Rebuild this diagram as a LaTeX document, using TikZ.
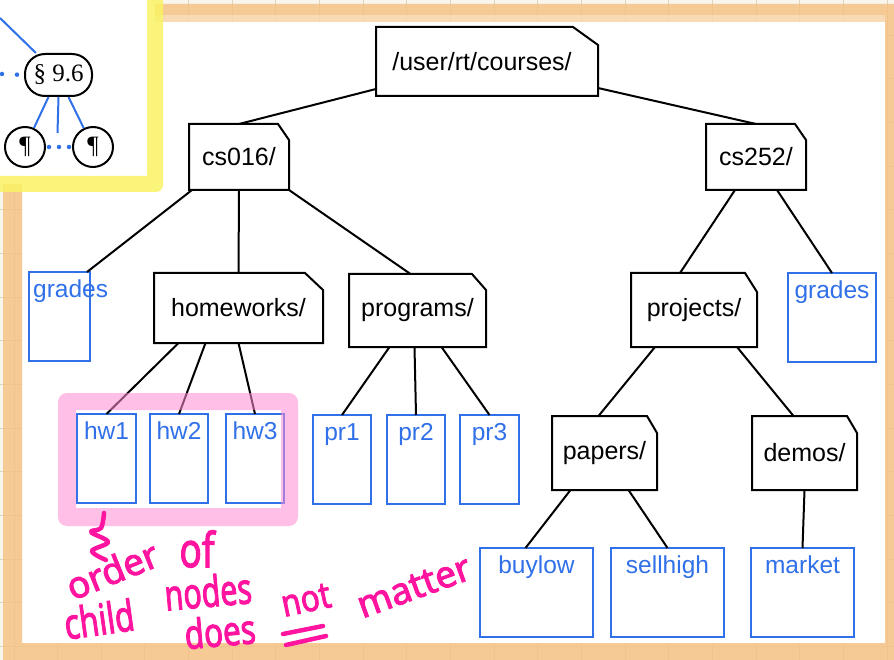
\documentclass[tikz,border=0pt]{standalone}
\usepackage{fontspec}
\setmainfont{Liberation Sans}
\newfontfamily\bookfont{Liberation Serif}
\newfontfamily\handfont[FakeBold=2.5]{Noto Sans}
\usetikzlibrary{calc}

\definecolor{paper}{RGB}{248,246,236}
\definecolor{gridline}{RGB}{224,212,188}
\definecolor{tape}{RGB}{245,192,128}
\definecolor{marker}{RGB}{250,243,100}
\definecolor{leafblue}{RGB}{48,112,232}
\definecolor{hilite}{RGB}{255,140,210}
\definecolor{ink}{RGB}{255,20,160}

\tikzset{
  folder/.style={inner sep=0pt, outer sep=0pt, anchor=north west, font=\fontsize{25}{30}\selectfont},
  folderline/.style={draw=black, line width=2pt, line join=miter},
  leaf/.style={draw=leafblue, line width=2pt, inner sep=0pt, outer sep=0pt, minimum height=89pt, anchor=north west},
  leaftag/.style={anchor=north, yshift=-8pt, inner sep=0pt, text height=17.5pt, text=leafblue, font=\fontsize{24.5}{30}\selectfont},
  link/.style={draw=black, line width=2pt},
  twig/.style={draw=leafblue, line width=2pt},
  dotlink/.style={draw=leafblue, line width=4.5pt, line cap=round, dash pattern=on 0pt off 15pt},
  bubble/.style={draw=black, line width=2pt, rounded corners=20pt, minimum width=67pt, minimum height=42pt, inner sep=0pt, font=\bookfont\fontsize{25}{30}\selectfont},
  para/.style={draw=black, line width=2pt, circle, minimum size=40pt, inner sep=0pt, font=\bookfont\fontsize{25}{30}\selectfont},
  pen/.style={draw=ink, line width=4.5pt, line cap=round, line join=round},
  hand/.style={text=ink, inner sep=0pt, font=\handfont\fontsize{37}{40}\selectfont},
}

\begin{document}
\begin{tikzpicture}[x=1pt, y=-1pt]
\useasboundingbox (0,0) rectangle (894,660);

% grid paper
\fill[paper] (0,0) rectangle (894,660);
\foreach \i in {0,...,20}
  \draw[gridline, line width=1pt] ({14+43.65*\i},0) -- ++(0,660);
\foreach \i in {0,...,15}
  \draw[gridline, line width=1pt] (0,{-8.4+43.67*\i}) -- ++(894,0);

% white sheet and the tape round it
\fill[white] (22,22) rectangle (885,643);
\fill[tape, opacity=0.8, even odd rule] [rounded corners=6pt] (3,4) rectangle (910,675)
  [sharp corners] (22,22) rectangle (885,643);
\fill[white, opacity=0.3] (22,15) rectangle (885,22);

% yellow-framed inset with a piece of a document tree
\fill[white] (0,0) rectangle (155,184);
\fill[marker, opacity=0.85, even odd rule] [rounded corners=7pt] (-20,-20) rectangle (163,192)
  [sharp corners] (-30,-30) rectangle (147,176);

\node[bubble] (sec) at (58.5,75) {\S\ 9.6};
\node[para] (p1) at (25,147) {¶};
\node[para] (p2) at (93,147) {¶};
\coordinate (secup) at (0,18);
\coordinate (secdots) at (2,74);
\coordinate (stub) at (57.5,133);
\draw[twig] (secup) -- (sec);
\draw[dotlink] (secdots) -- (sec.west);
\draw[twig] ([xshift=-10pt]sec.south) -- (p1);
\draw[twig] (sec.south) -- (stub);
\draw[twig] ([xshift=10pt]sec.south) -- (p2);
\draw[dotlink, dash pattern=on 0pt off 10pt] ([xshift=3pt]p1.east) -- (p2.west);

% directories
\node[folder, minimum width=222pt, minimum height=69pt] (root) at (376,27) {/user/rt/courses/\hspace*{10pt}};
\node[folder, minimum width=100pt, minimum height=66pt] (cs016) at (189,124) {cs016/};
\node[folder, minimum width=100pt, minimum height=66pt] (cs252) at (706,124) {cs252/};
\node[folder, minimum width=169pt, minimum height=70pt] (homeworks) at (154,273) {homeworks/};
\node[folder, minimum width=137pt, minimum height=73pt] (programs) at (349,274) {programs/};
\node[folder, minimum width=126pt, minimum height=74pt] (projects) at (631,273) {projects/};
\node[folder, minimum width=105pt, minimum height=74pt] (papers) at (552,416) {papers/};
\node[folder, minimum width=105pt, minimum height=74pt] (demos) at (752,416) {demos/};

\foreach \n/\fx/\fy in {root/25/18, cs016/11/16, cs252/11/16, homeworks/18/17,
                        programs/14/16, projects/12/19, papers/10/17, demos/10/17}
  \draw[folderline] (\n.south west) -- (\n.north west) -- ($(\n.north east)+(-\fx,0)$)
    -- ($(\n.north east)+(0,\fy)$) -- (\n.south east) -- cycle;

% files
\node[leaf, minimum width=61pt, label={[leaftag, anchor=north west, xshift=4pt]north west:grades}] (gradesL) at (29,272) {};
\node[leaf, minimum width=88pt, label={[leaftag]north:grades}] (gradesR) at (788,273) {};
\node[leaf, minimum width=59pt, label={[leaftag]north:hw1}] (hw1) at (77,414) {};
\node[leaf, minimum width=58pt, label={[leaftag]north:hw2}] (hw2) at (150,414) {};
\node[leaf, minimum width=58pt, label={[leaftag]north:hw3}] (hw3) at (226,414) {};
\node[leaf, minimum width=58pt, label={[leaftag]north:pr1}] (pr1) at (313,415) {};
\node[leaf, minimum width=58pt, label={[leaftag]north:pr2}] (pr2) at (387,415) {};
\node[leaf, minimum width=59pt, label={[leaftag]north:pr3}] (pr3) at (460,415) {};
\node[leaf, minimum width=113pt, label={[leaftag]north:buylow}] (buylow) at (480,548) {};
\node[leaf, minimum width=113pt, label={[leaftag]north:sellhigh}] (sellhigh) at (611,548) {};
\node[leaf, minimum width=103pt, label={[leaftag]north:market}] (market) at (751,548) {};

% edges
\draw[link] ($(root.south west)+(0,-7)$) -- (cs016.north);
\draw[link] ($(root.south east)+(0,-8)$) -- (cs252.north);
\draw[link] ($(cs016.south west)+(3,0)$) -- ($(gradesL.north east)+(-3,0)$);
\draw[link] (cs016.south) -- (homeworks.north);
\draw[link] (cs016.south east) -- ($(programs.north)+(-7,0)$);
\draw[link] ($(cs252.south)+(-21,0)$) -- ($(projects.north)+(-14,0)$);
\draw[link] ($(cs252.south)+(21,0)$) -- (gradesR.north);
\draw[link] ($(homeworks.south)+(-60,0)$) -- (hw1.north);
\draw[link] ($(homeworks.south)+(-33,0)$) -- (hw2.north);
\draw[link] (homeworks.south) -- (hw3.north);
\draw[link] ($(programs.south)+(-28,0)$) -- (pr1.north);
\draw[link] ($(programs.south)+(-3,0)$) -- (pr2.north);
\draw[link] ($(programs.south)+(24,0)$) -- (pr3.north);
\draw[link] ($(projects.south)+(-39,0)$) -- ($(papers.north)+(-6,0)$);
\draw[link] ($(projects.south)+(43,0)$) -- ($(demos.north)+(-11,0)$);
\draw[link] ($(papers.south)+(-34,0)$) -- ($(buylow.north)+(-11,0)$);
\draw[link] ($(papers.south)+(24,0)$) -- (sellhigh.north);
\draw[link] (demos.south) -- (market.north);

% pink highlight round the homework files
\fill[hilite, opacity=0.55, even odd rule] [rounded corners=9pt] (58,393) rectangle (298,526)
  [sharp corners] (76,410) rectangle (281,508);

% handwritten note
\draw[pen] plot[smooth, tension=0.6] coordinates {(104,513) (101,528) (91,532) (108,542) (92,551) (106,560)};
\node[hand, rotate=22, xscale=1.0] (nOrder) at (112,570) {order};
\node[hand, yscale=1.3] (nOf) at (197,549) {of};
\node[hand, rotate=8, xscale=0.85, yscale=1.15] (nChild) at (99,619) {child};
\node[hand, rotate=5, xscale=0.82, yscale=1.15] (nNodes) at (208,591) {nodes};
\node[hand, rotate=5, xscale=0.85, yscale=1.1] (nDoes) at (220,631) {does};
\node[hand, rotate=12, xscale=0.85] (nNot) at (306,600) {not};
\node[hand, rotate=20] (nMatter) at (414,587) {matter};
\draw[pen] (283,634) -- (323,626);
\draw[pen] (286,645) -- (326,636);
\end{tikzpicture}
\end{document}
